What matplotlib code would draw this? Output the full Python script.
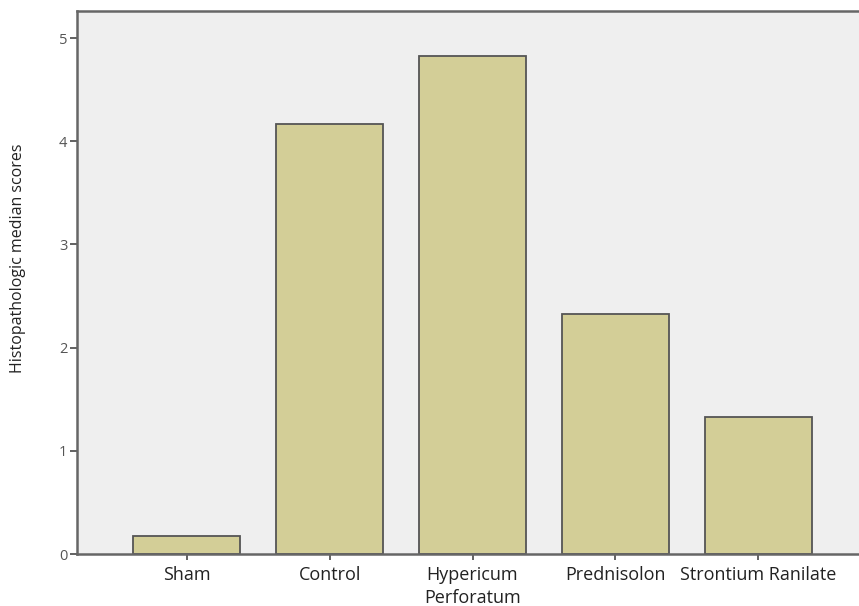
import numpy as np
import matplotlib.pyplot as plt

groups = ["Sham", "Control", "Hypericum\nPerforatum", "Prednisolon", "Strontium Ranilate"]
scores = [0.17, 4.17, 4.83, 2.33, 1.33]
yticks = [0, 1, 2, 3, 4, 5]

plt.rcParams['font.family'] = ['Open Sans', 'DejaVu Sans']

W, H = 859, 606
fig = plt.figure(figsize=(W / 100, H / 100), dpi=100)
left, right, top, bottom = 77, 868, 11, 554
ax = fig.add_axes([left / W, 1 - bottom / H, (right - left) / W, (bottom - top) / H])
ax.set_facecolor('#efefef')

x = np.arange(len(groups))
ax.bar(x, scores, width=0.75, color='#d3ce97', edgecolor='#555555', linewidth=1.3, zorder=2)

ax.set_xlim(-0.77, len(groups) - 1 + 0.77)
ax.set_ylim(0, (bottom - top) / 103.2)
ax.set_yticks(yticks)
ax.set_xticks(x)
ax.set_xticklabels(groups, fontsize=13, color='#222222', linespacing=1.3)
ax.tick_params(axis='y', length=5, width=1.3, color='#555555', labelsize=10.5, labelcolor='#555555', pad=2)
ax.tick_params(axis='x', length=4, width=1.3, color='#555555', pad=5)

for s in ['left', 'top', 'bottom']:
    ax.spines[s].set_color('#666666')
    ax.spines[s].set_linewidth(1.8)
ax.spines['right'].set_visible(False)

fig.text(18 / W, 1 - 258 / H, "Histopathologic median scores", rotation=90,
         ha='center', va='center', fontsize=11.5, color='#222222')

fig.savefig('out.png', dpi=100)
